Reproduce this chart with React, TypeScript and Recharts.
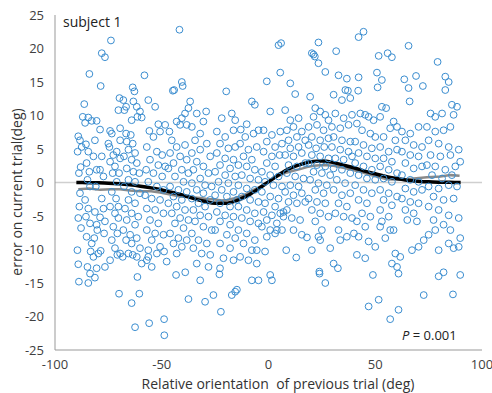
import React from "react";
import { ComposedChart, Scatter, Line, XAxis, YAxis, ReferenceLine } from "recharts";

// single trials: [relative orientation of previous trial, error on current trial]
const trials: [number, number][] = [
  // far left outliers / strip -90..-80
  [-89.1, 6.9], [-88.3, 6.3], [-89.4, 4.6], [-87.5, 5.3], [-88.8, 1.4], [-88, 2.3], [-88.3, -1.6], [-88.6, -3.6],
  [-89.1, -5.3], [-87.8, -6.8], [-89.5, -10.1], [-89.1, -12.2], [-88.8, -14.8], [-86.3, 11.7], [-87, 9.8], [-85.9, 8.9],
  [-84.4, 9.7], [-85.5, 5.7], [-84.4, 4.6], [-85.2, 2.9], [-83.9, 1.6], [-84.8, 0.4], [-83.6, -0.6], [-85.9, -2.6],
  [-84.4, -3.9], [-85.5, -5.1], [-83.6, -6.1], [-85.2, -8.1], [-82.8, -9.1], [-83.3, -10.3], [-82, -11.1], [-84.8, -12.6],
  [-83.6, -13.6], [-84.4, -15.0], [-81.3, 6.3], [-82, 3.9], [-80.5, 1.9], [-80.9, -0.6], [-81.3, -4.4], [-80.5, -6.3],
  [-80.2, -7.1], [-81.6, -8.3], [-79.7, -10.6], [-80.5, -12.8], [-81.3, -14.2], [-82.8, 9.2], [-80.5, 9.2], [-83.9, 16.2],
  // -80..-70
  [-78.1, 19.3], [-76.6, 18.7], [-73.8, 21.2], [-78.6, 14.4], [-78.9, 7.9], [-78.1, 3.9], [-78.9, 1.9], [-77.3, 0.9],
  [-78.1, -2.4], [-77.3, -3.9], [-78.9, -5.2], [-76.6, -5.8], [-77, -7.6], [-78.6, -10.2], [-76.6, -12.6], [-75, 5.8],
  [-74.2, 7.7], [-73.4, 7.3], [-74.5, 5.3], [-72.7, 4.1], [-74.2, 3.1], [-71.9, 2.4], [-73, 1.4], [-71.1, 0.1],
  [-73.4, -1.4], [-71.4, -2.4], [-74.2, -3.6], [-71.9, -4.6], [-70.3, -5.3], [-72.7, -6.6], [-70.8, -7.6], [-73.4, -8.6],
  [-71.9, -9.8], [-74.2, -11.6], [-69.8, 12.6], [-70.3, 10.8], [-69.5, 8.1], [-69.5, 6.3], [-71.1, 4.6], [-69.5, 3.6],
  [-70, 1.4], [-70.3, -3.6], [-69.5, -10.6], [-70.8, -10.8], [-70, -16.6],
  // -70..-58
  [-68, 12.3], [-66.7, 11.3], [-67.5, 10.8], [-63.6, 14.2], [-62.8, 13.6], [-63.3, 12.1], [-61.7, 11.3], [-60.2, 10.6],
  [-59.4, 9.7], [-61.4, 9.8], [-64.1, 9.3], [-66.7, 7.3], [-64.5, 7.1], [-66.4, 6.1], [-63.6, 5.8], [-65.6, 4.9],
  [-62.5, 4.4], [-67.7, 3.9], [-64.1, 3.4], [-61.7, 2.9], [-66.4, 2.1], [-63.3, 1.6], [-60.5, 1.4], [-65.6, 0.4],
  [-62.5, 0.1], [-67.7, -0.6], [-64.1, -1.4], [-60.2, -1.6], [-65.6, -2.6], [-62.5, -3.1], [-67.2, -3.9], [-64.1, -4.6],
  [-61, -5.1], [-66.4, -5.6], [-62.5, -6.3], [-68, -7.1], [-64.8, -7.8], [-61.7, -8.3], [-66.7, -8.6], [-64.1, -9.1],
  [-60.2, -9.8], [-65.6, -10.6], [-68.3, -11.1], [-61.7, -11.1], [-61.4, -14.1], [-59.4, -12.1], [-63.6, -10.8],
  [-64.1, -18.0], [-60.5, -16.6], [-62.5, -21.6],
  // -58..-47
  [-58.1, 16.0], [-56.3, 12.3], [-53.1, 11.3], [-51.6, 8.7], [-55.8, 7.7], [-53.9, 6.8], [-50.8, 7.6], [-48.4, 8.6],
  [-57, 5.3], [-52.3, 4.6], [-49.8, 4.1], [-55.5, 3.4], [-51.6, 2.6], [-48.4, 2.4], [-57.3, 1.9], [-53.9, 1.4],
  [-49.8, 0.9], [-56.3, 0.1], [-52.3, -0.6], [-49.2, -1.1], [-57.8, -1.9], [-54.7, -2.4], [-50.8, -2.6], [-57, -3.9],
  [-53.1, -4.1], [-49.2, -4.6], [-55.5, -5.6], [-51.6, -6.1], [-57, -7.1], [-53.1, -7.6], [-49.2, -7.8], [-54.7, -8.6],
  [-50.8, -9.6], [-56.3, -10.1], [-52.3, -10.6], [-48.9, -10.3], [-57, -11.6], [-54.7, -12.6], [-47.7, -11.8],
  [-56.3, -11.1], [-55.9, -21.0], [-48.9, -20.4], [-48.8, -22.8],
  // -47..-36
  [-41.7, 22.8], [-44.8, 13.7], [-44.2, 13.8], [-40.6, 15.0], [-40.2, 14.4], [-46.4, 7.6], [-43, 9.1], [-40.6, 9.6],
  [-39.1, 10.3], [-37.5, 11.1], [-36.7, 12.1], [-41.4, 8.6], [-38.3, 8.6], [-45.3, 6.3], [-43, 5.3], [-39.1, 5.6],
  [-46.1, 4.4], [-41.4, 3.9], [-38.3, 3.4], [-44.5, 2.9], [-46.9, 2.1], [-40.6, 1.9], [-37.5, 1.4], [-43.8, 0.9],
  [-39.8, 0.1], [-46.1, -0.6], [-42.2, -1.1], [-38.3, -1.4], [-44.5, -2.1], [-40.6, -2.6], [-46.9, -3.1], [-43, -3.6],
  [-39.1, -4.1], [-45.3, -4.6], [-41.4, -5.3], [-37.5, -5.6], [-43.8, -6.1], [-39.8, -6.8], [-46.1, -7.6], [-42.2, -8.3],
  [-38.3, -8.6], [-44.5, -9.1], [-40.6, -9.6], [-43, -10.6], [-43.3, -13.8], [-39, -13.4], [-37.5, -17.4],
  // -36..-26
  [-33.6, 10.3], [-30.5, 9.1], [-29.2, 10.6], [-35.9, 8.3], [-32, 7.3], [-34.4, 6.3], [-28.9, 5.8], [-32, 4.9],
  [-35.9, 4.4], [-27.3, 3.9], [-33.6, 3.1], [-30.5, 2.4], [-35.2, 1.9], [-28.1, 1.4], [-32, 0.6], [-35.9, -0.1],
  [-29.7, -0.4], [-26.6, -0.6], [-33.6, -1.1], [-30.5, -1.6], [-35.9, -2.4], [-27.3, -2.6], [-32.8, -3.1], [-29.7, -3.6],
  [-35.2, -4.1], [-32, -4.9], [-28.1, -5.1], [-34.4, -5.8], [-30.5, -6.6], [-26.6, -7.1], [-35.9, -7.6], [-32.8, -8.6],
  [-28.9, -9.1], [-35.2, -9.8], [-31.3, -10.6], [-27.3, -10.8], [-33.6, -12.1], [-28.1, -12.6], [-32, -14.6],
  [-29.7, -17.8], [-25.8, -16.8],
  // -26..-15
  [-19.8, 13.6], [-21.9, 9.6], [-17.2, 10.3], [-15.6, 9.3], [-24.2, 7.6], [-20.3, 6.8], [-16.4, 7.8], [-22.7, 5.8],
  [-18.8, 5.1], [-15.6, 5.3], [-24.2, 4.4], [-20.3, 3.6], [-16.4, 3.4], [-22.7, 2.6], [-18, 2.1], [-25, 1.6],
  [-20.3, 1.1], [-15.6, 0.9], [-23.4, 0.1], [-18.8, -0.1], [-21.9, -1.1], [-16.4, -1.4], [-25, -1.9], [-19.5, -2.1],
  [-14.8, -2.6], [-22.7, -3.1], [-18, -3.6], [-24.2, -4.4], [-20.3, -4.9], [-16.4, -5.1], [-22.7, -5.8], [-18, -6.3],
  [-25, -7.1], [-19.5, -7.8], [-15.6, -8.3], [-22.7, -9.1], [-18, -9.8], [-16.4, -11.6], [-21.1, -11.3], [-23, -13.7],
  [-22.7, -12.8], [-22.3, -19.3], [-17.2, -16.8], [-15.6, -16.3], [-14.8, -16.0],
  // -15..-4
  [-13, 7.9], [-10.2, 8.7], [-7.8, 12.1], [-6.4, 11.6], [-10.9, 6.8], [-7, 7.3], [-4.7, 7.8], [-13.3, 5.8],
  [-9.4, 4.9], [-5.5, 5.3], [-11.7, 3.9], [-7.8, 3.4], [-14.1, 2.6], [-10.2, 2.4], [-6.4, 1.9], [-12.5, 1.1],
  [-8.6, 0.6], [-4.7, 0.4], [-14.1, -0.4], [-10.2, -0.9], [-6.4, -1.1], [-12.5, -2.1], [-8.6, -2.6], [-4.7, -2.9],
  [-14.1, -3.6], [-10.2, -4.1], [-6.4, -4.6], [-12.5, -5.3], [-8.6, -5.8], [-4.7, -6.1], [-14.1, -7.1], [-10.2, -7.6],
  [-6.4, -8.6], [-11.7, -9.1], [-7.8, -10.1], [-13.3, -11.1], [-9.4, -11.6], [-5.5, -12.1], [-7.8, -14.6],
  [-4.7, -14.6], [-5.5, -10.1], [-1.6, -10.3],
  // -4..7
  [-0.8, 15.1], [4.7, 20.5], [5.9, 20.8], [5.5, 16.4], [0.8, 10.6], [-2.3, 7.8], [1.6, 7.1], [5.5, 7.6], [-0.8, 6.1],
  [3.1, 5.3], [6.3, 5.8], [-2.3, 4.6], [1.6, 3.9], [5.2, 4.1], [-0.8, 2.9], [3.1, 2.4], [-3.1, 1.6], [0.8, 1.1],
  [4.7, 0.9], [-1.6, 0.1], [2.3, -0.4], [6.3, -0.6], [-3.1, -1.4], [0.8, -2.1], [4.7, -2.4], [-1.6, -3.1], [3.1, -3.6],
  [-2.3, -4.4], [1.6, -4.9], [5.5, -4.6], [-0.8, -5.6], [3.9, -6.1], [-3.1, -6.6], [0.8, -7.1], [6.3, -7.1], [-0.8, -8.1],
  [3.1, -7.6], [7, -4.4], [0.8, -13.8], [1.6, -14.6],
  // 7..18
  [7.8, 10.8], [10.2, 14.8], [12.5, 13.2], [10.2, 9.3], [14.1, 9.6], [8.6, 7.8], [11.7, 8.3], [15.6, 7.6], [9.4, 6.3],
  [13.3, 6.8], [17.2, 6.3], [10.2, 5.1], [14.1, 5.3], [7.8, 4.1], [11.7, 3.9], [15.6, 4.4], [9.4, 2.6], [13.3, 2.4],
  [17.2, 2.9], [8.6, 1.4], [12.5, 0.9], [16.4, 0.6], [10.2, -0.4], [14.1, -0.6], [7.8, -1.4], [11.7, -1.9], [15.6, -1.6],
  [9.4, -2.9], [13.3, -3.1], [17.2, -2.9], [8.6, -4.1], [7, -5.1], [10.9, -5.3], [14.8, -5.6], [11.7, -7.1], [15.6, -7.8],
  [8.3, -10.1], [13, -11.2], [18, -8.2], [3.9, -7.1],
  // 18..29
  [20.3, 19.3], [21.1, 19.1], [21.7, 18.8], [23.4, 17.8], [23.4, 20.9], [26.6, 16.5], [19.5, 12.8], [21.9, 11.1],
  [24.2, 10.6], [26.6, 10.1], [21.1, 9.8], [28.1, 9.3], [18.8, 8.3], [22.7, 8.6], [25.8, 7.8], [20.3, 6.8], [24.2, 6.3],
  [28.1, 6.6], [18.8, 5.6], [22.3, 5.1], [26.1, 5.3], [20.3, 4.1], [24.2, 3.9], [28.1, 3.6], [18.8, 2.9], [22.7, 2.6],
  [26.6, 2.4], [21.1, 1.6], [25, 1.4], [28.9, 1.1], [19.5, 0.4], [23.4, -0.1], [27.3, -0.4], [21.9, -1.1], [25.8, -1.6],
  [18.8, -2.4], [22.7, -2.9], [26.6, -3.1], [20.3, -4.1], [24.2, -4.6], [28.1, -5.1], [21.9, -5.8], [25, -7.1],
  [23.4, -8.1], [20.3, -10.1], [28.9, -9.8], [23.8, -13.3], [23.9, -13.6], [26.6, -15.0], [24.2, -8.6],
  // 29..40
  [31.7, 19.6], [32.8, 16.0], [36.7, 15.5], [36, 13.8], [37.2, 13.7], [30.5, 13.1], [34.4, 12.3], [38.3, 12.6],
  [31.3, 10.3], [35.2, 9.6], [39.1, 10.1], [29.7, 8.3], [33.6, 8.1], [37.5, 8.6], [30.5, 6.8], [34.4, 6.3], [38.3, 6.1],
  [29.7, 5.3], [33.6, 4.9], [37.5, 4.6], [31.3, 3.6], [35.2, 3.4], [39.1, 3.9], [30.5, 2.1], [34.4, 1.9], [38.3, 1.4],
  [32, 0.4], [35.9, -0.1], [30.5, -1.1], [34.4, -1.9], [38.3, -1.6], [32.8, -3.1], [36.7, -3.6], [31.3, -4.6],
  [35.2, -5.1], [39.1, -5.3], [32.8, -7.1], [36.7, -8.1], [33.6, -8.6], [40, -7.6], [32.5, -12.8], [30.5, -12.1],
  // 40..51
  [42.2, 21.7], [44.5, 22.5], [42.2, 15.7], [42, 13.7], [43, 10.3], [45.3, 10.1], [46.9, 9.8], [49.2, 9.3], [41.4, 8.8],
  [43.8, 7.8], [47.7, 7.3], [50, 6.8], [40.6, 6.1], [44.5, 5.6], [48.4, 5.1], [42.2, 4.4], [46.1, 3.9], [50, 3.6],
  [40.6, 2.9], [44.5, 2.4], [48.4, 1.9], [42.2, 1.1], [46.1, 0.6], [50, 0.4], [40.6, -0.4], [44.5, -1.1], [48.4, -1.6],
  [42.2, -2.6], [46.1, -3.1], [43.8, -4.6], [47.7, -5.1], [41.4, -5.8], [45.3, -6.6], [42.2, -8.1], [46.9, -8.8],
  [50, -9.6], [41.4, -10.8], [45.3, -11.3], [46.9, -18.5], [48.9, -13.8],
  // 51..62
  [51.6, 18.9], [55.8, 19.3], [57.8, 18.7], [50.8, 16.4], [53.1, 15.3], [51.1, 14.2], [53.1, 11.3], [55.1, 11.1],
  [52.3, 9.8], [58.6, 9.1], [60.2, 8.3], [57, 8.1], [53.9, 6.8], [59.4, 6.3], [52.3, 5.3], [56.3, 4.6], [60.2, 4.9],
  [53.9, 3.6], [57.8, 3.1], [52.3, 2.4], [56.3, 1.9], [60.2, 1.4], [53.9, 0.6], [57.8, 0.1], [52.3, -1.1], [56.3, -1.6],
  [60.2, -2.1], [53.9, -2.6], [57.8, -3.4], [52.3, -4.1], [56.3, -5.1], [53.1, -5.8], [52.3, -6.6], [57, -7.1],
  [54.7, -8.3], [58.6, -7.1], [59.4, -10.6], [57.8, -12.1], [60.2, -12.6], [60.9, -13.6], [61.7, -11.1], [51.6, -17.5],
  [57, -20.4], [60.9, -19.0],
  // 62..73
  [65.6, 20.4], [63.6, 15.4], [65.6, 14.1], [66.1, 12.1], [69.1, 15.9], [72.3, 14.4], [62.5, 7.6], [66.4, 7.3],
  [70.3, 8.3], [64.1, 6.3], [68, 5.6], [71.9, 5.3], [62.5, 4.6], [66.4, 4.1], [70.3, 3.9], [64.1, 2.9], [68, 2.1],
  [71.9, 2.4], [62.5, 1.1], [66.4, 0.4], [70.3, 0.1], [64.1, -0.9], [68, -1.4], [71.9, -1.1], [62.5, -2.4], [66.4, -2.9],
  [70.3, -3.1], [64.1, -4.1], [68, -4.6], [65, -5.6], [69.5, -5.8], [67.2, -10.1], [70.3, -9.6], [72.7, -8.6],
  [72.7, -16.8],
  // 73..90
  [79.2, 18.0], [82.8, 15.8], [84.4, 15.0], [82.8, 13.8], [75.9, 10.3], [78.1, 9.8], [81.3, 10.3], [85.9, 11.6],
  [88.3, 11.3], [86.7, 10.1], [74.2, 8.3], [78.1, 7.6], [82, 7.8], [85.2, 8.3], [75, 6.3], [79.7, 5.8], [84.4, 5.3],
  [89.1, 4.9], [75.9, 4.1], [80.5, 3.9], [85.2, 4.1], [74.2, 2.6], [78.1, 2.4], [82.8, 1.9], [87.5, 2.4], [89.8, 3.1],
  [76.6, 1.1], [81.3, 0.6], [85.9, 1.1], [75, -0.6], [79.7, -0.9], [84.4, -0.4], [88.3, -0.6], [77.3, -2.1], [82, -2.6],
  [86.7, -2.4], [75, -3.6], [79.7, -4.1], [84.4, -4.9], [89.1, -5.3], [77.3, -5.6], [82, -6.3], [78.1, -7.1],
  [85.2, -7.1], [89.8, -8.3], [75, -7.8], [79.7, -10.1], [84.4, -9.1], [86.7, -9.8], [89.1, -9.6], [89.8, -13.8],
  [79.7, -14.0], [82, -13.4], [86.4, -16.7],
];

// model fit (black)
const fitX = [-90, -85, -80, -75, -70, -65, -60, -55, -50, -45, -40, -35, -30, -25, -20, -15, -10, -5, 0, 5, 10, 15, 20, 25, 30, 35, 40, 45, 50, 55, 60, 65, 70, 75, 80, 85, 90];
const fitY = [0, -0.02, -0.05, -0.1, -0.2, -0.35, -0.55, -0.8, -1.1, -1.5, -1.9, -2.4, -2.8, -3.1, -3.1, -2.7, -2.0, -1.0, 0.1, 1.2, 2.1, 2.7, 3.1, 3.2, 3.0, 2.6, 2.2, 1.7, 1.3, 0.9, 0.6, 0.35, 0.2, 0.1, 0.05, 0.02, 0];

// running average (grey)
const avgX = [-89.1, -84, -78.9, -74, -69.5, -65, -60.2, -55, -50.8, -46, -41.4, -36, -32, -28, -25.8, -22, -19.5, -16.4, -11.7, -7, -3, -0.8, 3.9, 8.6, 12, 14.8, 18, 21.1, 25.8, 30.5, 36.7, 43, 49.2, 55.5, 61.7, 68, 74.2, 80.5, 85.2, 89.5];
const avgY = [-1.0, -0.9, -1.1, -1.0, -1.0, -1.2, -1.3, -1.3, -1.5, -1.8, -2.1, -2.2, -2.3, -2.5, -2.5, -2.7, -2.6, -2.4, -1.9, -1.1, -0.5, 0, 0.9, 1.5, 1.8, 2.0, 2.3, 2.5, 2.6, 2.5, 2.1, 1.6, 1.0, 0.5, 0.4, 0.6, 0.8, 0.9, 1.1, 1.0];

const xTicks = [-100, -50, 0, 50, 100];
const yTicks = [-25, -20, -15, -10, -5, 0, 5, 10, 15, 20, 25];

const scatterData = trials.map(([x, y]) => ({ x, y }));
const fitData = fitX.map((x, i) => ({ x, y: fitY[i] }));
const avgData = avgX.map((x, i) => ({ x, y: avgY[i] }));

const font = "'Open Sans', 'Noto Sans', sans-serif";
const tickStyle = { fill: "#404040", fontSize: 13, fontFamily: font };

const Ring = (props: any) => {
  const { cx, cy } = props;
  if (cx == null || cy == null) return <g />;
  return <circle cx={cx} cy={cy} r={3.4} fill="none" stroke="#3a8dd0" strokeWidth={1} />;
};

export default function App() {
  return (
    <div style={{ position: "absolute", left: 0, top: 0, width: 492, height: 393, background: "#fff", fontFamily: font }}>
      <ComposedChart width={492} height={393} margin={{ top: 15, right: 10, bottom: 13, left: 0 }}>
        <XAxis
          type="number"
          dataKey="x"
          domain={[-100, 100]}
          ticks={xTicks}
          tickLine={false}
          tickMargin={4}
          height={30}
          stroke="#999"
          tick={tickStyle}
          allowDataOverflow
        />
        <YAxis
          type="number"
          dataKey="y"
          domain={[-25, 25]}
          ticks={yTicks}
          tickLine={false}
          tickMargin={5}
          width={55}
          stroke="#999"
          tick={tickStyle}
          allowDataOverflow
          interval={0}
        />
        <ReferenceLine y={0} stroke="#cfcfcf" strokeWidth={1.5} />
        <Scatter data={scatterData} dataKey="y" shape={<Ring />} isAnimationActive={false} />
        <Line data={avgData} dataKey="y" type="linear" stroke="#8a8a8a" strokeWidth={2.5} dot={false} isAnimationActive={false} />
        <Line data={fitData} dataKey="y" type="monotone" stroke="#000" strokeWidth={3.5} dot={false} isAnimationActive={false} />
      </ComposedChart>
      <div style={{ position: "absolute", left: 63, top: 13, fontSize: 14, color: "#222", lineHeight: "18px" }}>subject 1</div>
      <div style={{ position: "absolute", left: 402, top: 326, fontSize: 13, color: "#222", lineHeight: "18px" }}>
        <i>P</i> = 0.001
      </div>
      <div
        style={{
          position: "absolute",
          left: 16,
          top: 192,
          transform: "translate(-50%, -50%) rotate(-90deg)",
          whiteSpace: "nowrap",
          fontSize: 14,
          color: "#333",
        }}
      >
        error on current trial(deg)
      </div>
      <div
        style={{
          position: "absolute",
          left: 278,
          top: 384,
          transform: "translate(-50%, -50%)",
          whiteSpace: "nowrap",
          fontSize: 14,
          lineHeight: "16px",
          color: "#333",
        }}
      >
        Relative orientation&nbsp; of previous trial (deg)
      </div>
    </div>
  );
}
